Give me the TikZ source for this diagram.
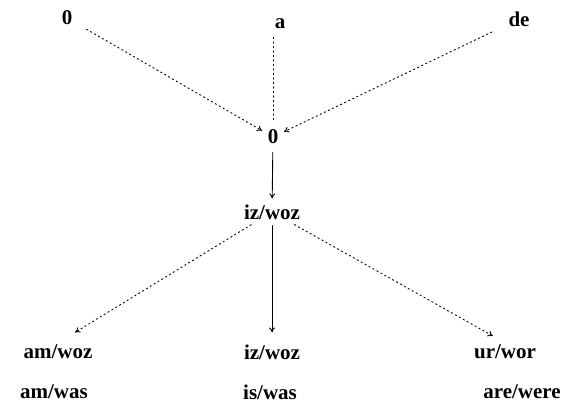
\documentclass[tikz,border=0pt]{standalone}
\usepackage{fontspec}
\setmainfont{Liberation Serif}
\usetikzlibrary{arrows.meta,calc,positioning}
\tikzset{
  wrd/.style={font=\bfseries\fontsize{21}{24}\selectfont, inner sep=2pt},
  dep/.style={-{To[length=5pt,width=6pt]}, line width=0.9pt, dash pattern=on 1.5pt off 3pt, shorten <=14pt, shorten >=4pt},
  sol/.style={-{To[length=5pt,width=6pt]}, line width=0.9pt, shorten <=4pt, shorten >=3pt},
  every picture/.style={line cap=round, line join=round}
}

\begin{document}
\begin{tikzpicture}[x=1pt,y=-1pt]
  \useasboundingbox (0,0) rectangle (586,415);

  % Sources
  \node[wrd] (z1) at (67,18) {0};
  \node[wrd] (a) at (280,24) {a};
  \node[wrd] (de) at (519,19) {de};

  % Middle
  \node[wrd] (z0) at (273,137) {0};
  \node[wrd] (iw) at (272,212) {iz/woz};

  % Outputs
  \node[wrd] (amwoz) at (58,352) {am/woz};
  \node[wrd] (iw2) at (272,352) {iz/woz};
  \node[wrd] (urwor) at (505,352) {ur/wor};
  \node[wrd] (amwas) at (54,392) {am/was};
  \node[wrd] (iswas) at (270,392) {is/was};
  \node[wrd] (arewere) at (522,392) {are/were};

  \draw[dep] (z1)--(z0);
  \draw[dep, -, shorten <=6pt, shorten >=8pt] (a.south -| z0)--(z0);
  \draw[dep, shorten <=16pt] (de)--(z0);
  \draw[sol, shorten <=6pt, shorten >=4pt] (z0)--(iw);

  \draw[dep, shorten <=6pt, shorten >=20pt] (iw)--(amwoz.north);
  \draw[sol, shorten >=10pt] (iw)--(iw2);
  \draw[dep, shorten <=6pt, shorten >=14pt] (iw)--(urwor.north);
\end{tikzpicture}
\end{document}
